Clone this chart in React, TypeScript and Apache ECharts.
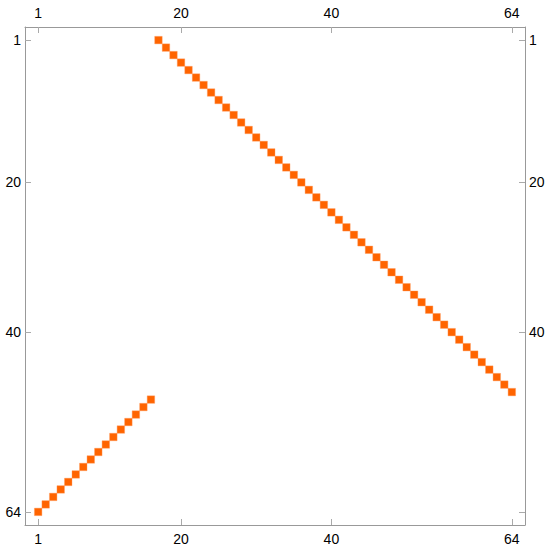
import React, { useEffect, useRef } from "react";
import * as echarts from "echarts";

// Row index (1..64) and the column of the nonzero entry in that row
const rows = [
  1, 2, 3, 4, 5, 6, 7, 8, 9, 10, 11, 12, 13, 14, 15, 16,
  17, 18, 19, 20, 21, 22, 23, 24, 25, 26, 27, 28, 29, 30, 31, 32,
  33, 34, 35, 36, 37, 38, 39, 40, 41, 42, 43, 44, 45, 46, 47, 48,
  49, 50, 51, 52, 53, 54, 55, 56, 57, 58, 59, 60, 61, 62, 63, 64,
];
const cols = [
  17, 18, 19, 20, 21, 22, 23, 24, 25, 26, 27, 28, 29, 30, 31, 32,
  33, 34, 35, 36, 37, 38, 39, 40, 41, 42, 43, 44, 45, 46, 47, 48,
  49, 50, 51, 52, 53, 54, 55, 56, 57, 58, 59, 60, 61, 62, 63, 64,
  16, 15, 14, 13, 12, 11, 10, 9, 8, 7, 6, 5, 4, 3, 2, 1,
];
const tickValues = [1, 20, 40, 64];
const rightLabelValues = [1, 20, 40];

export default function App() {
  const ref = useRef<HTMLDivElement>(null);
  useEffect(() => {
    if (!ref.current) return;
    const chart = echarts.init(ref.current, undefined, { renderer: "svg" });
    const data = rows.map((r, i) => [cols[i], r]);
    const axisLine = { show: true, onZero: false, lineStyle: { color: "#999999", width: 1 } };
    const axisTick = (vals: number[]) => ({
      show: true,
      inside: true,
      length: 6,
      customValues: vals,
      lineStyle: { color: "#aaaaaa", width: 1 },
    });
    const axisLabel = (vals: number[], margin: number) => ({
      show: true,
      customValues: vals,
      color: "#000000",
      fontSize: 14,
      fontFamily: "Liberation Sans, Arial, sans-serif",
      margin,
    });
    const xBase = {
      type: "value" as const,
      min: -0.75,
      max: 65.75,
      splitLine: { show: false },
      axisLine,
    };
    const yBase = {
      type: "value" as const,
      min: -0.75,
      max: 65.75,
      inverse: true,
      splitLine: { show: false },
      axisLine,
    };
    chart.setOption({
      animation: false,
      backgroundColor: "#ffffff",
      grid: { left: 25, right: 24, top: 27, bottom: 25, containLabel: false },
      xAxis: [
        { ...xBase, position: "bottom", axisTick: axisTick(tickValues), axisLabel: axisLabel(tickValues, 7) },
        { ...xBase, position: "top", axisTick: axisTick(tickValues), axisLabel: axisLabel(tickValues, 7) },
      ],
      yAxis: [
        { ...yBase, position: "left", axisTick: axisTick(tickValues), axisLabel: axisLabel(tickValues, 4) },
        { ...yBase, position: "right", axisTick: axisTick(tickValues), axisLabel: axisLabel(rightLabelValues, 4) },
      ],
      series: [
        {
          type: "scatter",
          xAxisIndex: 0,
          yAxisIndex: 0,
          symbol: "rect",
          symbolSize: 7.5,
          itemStyle: { color: "#ff6400", borderColor: "#ff9a5a", borderWidth: 0.4, opacity: 1 },
          data,
        },
      ],
    });
    return () => chart.dispose();
  }, []);
  return <div ref={ref} style={{ width: 549, height: 550, position: "absolute", left: 0, top: 0 }} />;
}
